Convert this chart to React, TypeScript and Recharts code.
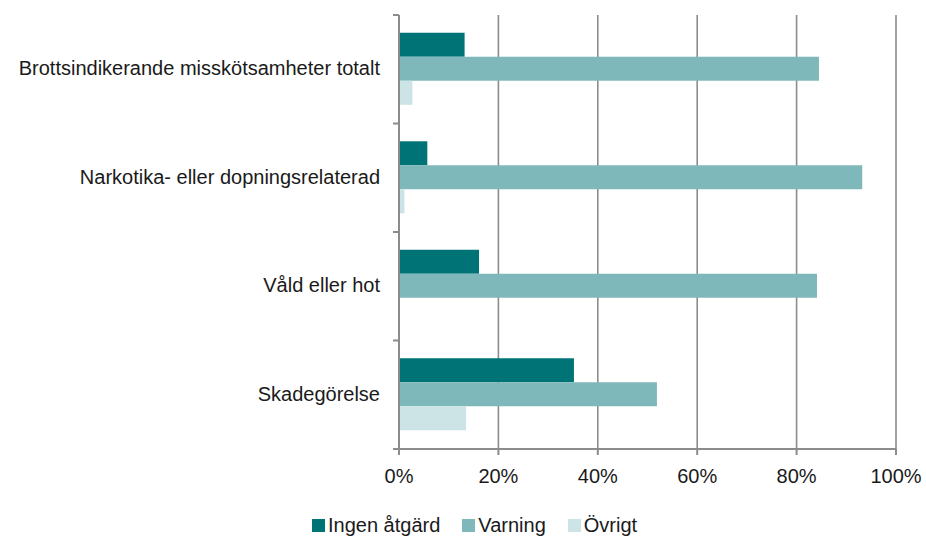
import React from 'react';
import { BarChart, Bar, XAxis, YAxis, CartesianGrid, Legend } from 'recharts';

const categories = [
  'Brottsindikerande misskötsamheter totalt',
  'Narkotika- eller dopningsrelaterad',
  'Våld eller hot',
  'Skadegörelse',
];
const ingenAtgard = [13.2, 5.7, 16.1, 35.2];
const varning = [84.5, 93.2, 84.1, 51.9];
const ovrigt = [2.7, 1.1, 0, 13.5];
const xTicks = [0, 20, 40, 60, 80, 100];

const SERIES = [
  { key: 'ingen', name: 'Ingen åtgärd', color: '#007377' },
  { key: 'varning', name: 'Varning', color: '#7fb8bb' },
  { key: 'ovrigt', name: 'Övrigt', color: '#cce4e5' },
];

const data = categories.map((c, i) => ({
  category: c,
  ingen: ingenAtgard[i],
  varning: varning[i],
  ovrigt: ovrigt[i],
}));

const FONT = '"Liberation Sans", Arial, sans-serif';
const TEXT = '#1a1a1a';
const AXIS = '#8c8c8c';
const BAND = 108.5;

// category label in the middle of the band, tick marks on the band edges
const CategoryTick = (props: any) => {
  const { x, y, payload, index } = props;
  return (
    <g>
      <line x1={x} x2={x + 6} y1={y - BAND / 2} y2={y - BAND / 2} stroke={AXIS} strokeWidth={2} />
      {index === categories.length - 1 && (
        <line x1={x} x2={x + 6} y1={y + BAND / 2} y2={y + BAND / 2} stroke={AXIS} strokeWidth={2} />
      )}
      <text x={x - 13} y={y} dy={6} textAnchor="end" fill={TEXT} fontSize={20} fontFamily={FONT}>
        {payload.value}
      </text>
    </g>
  );
};

const LegendContent = () => (
  <div style={{ display: 'flex', gap: 22, fontFamily: FONT, fontSize: 20, lineHeight: '24px', color: TEXT, whiteSpace: 'nowrap' }}>
    {SERIES.map(s => (
      <div key={s.key} style={{ display: 'flex', alignItems: 'center', gap: 3 }}>
        <span style={{ width: 13, height: 13, background: s.color, display: 'inline-block' }} />
        <span>{s.name}</span>
      </div>
    ))}
  </div>
);

export default function App() {
  return (
    <div style={{ position: 'absolute', left: 0, top: 0, background: '#fff' }}>
      <BarChart
        width={926}
        height={536}
        data={data}
        layout="vertical"
        margin={{ top: 15, right: 30, left: 0, bottom: 23 }}
        barCategoryGap="16.4%"
        barGap={0}
      >
        <CartesianGrid horizontal={false} stroke={AXIS} strokeWidth={1.6} />
        <XAxis
          type="number"
          domain={[0, 100]}
          ticks={xTicks}
          tickFormatter={(v: number) => `${v}%`}
          axisLine={{ stroke: AXIS, strokeWidth: 2 }}
          tickLine={{ stroke: AXIS, strokeWidth: 2 }}
          tickSize={6}
          tickMargin={14}
          tick={{ fill: TEXT, fontSize: 20, fontFamily: FONT }}
          height={40}
          interval={0}
        />
        <YAxis
          type="category"
          dataKey="category"
          width={399}
          axisLine={{ stroke: AXIS, strokeWidth: 2 }}
          tickLine={false}
          tickMargin={0}
          tick={<CategoryTick />}
          interval={0}
        />
        <Legend
          content={<LegendContent />}
          wrapperStyle={{ left: 312, top: 513, bottom: 'auto', width: 'auto', height: 24 }}
        />
        {SERIES.map(s => (
          <Bar key={s.key} dataKey={s.key} name={s.name} fill={s.color} isAnimationActive={false} />
        ))}
      </BarChart>
    </div>
  );
}
